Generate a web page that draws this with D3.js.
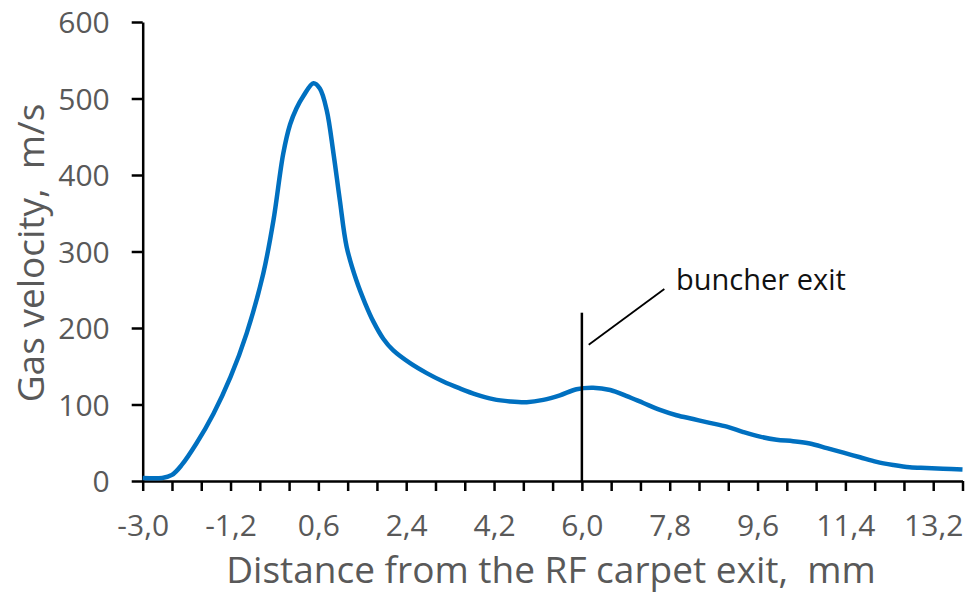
<!DOCTYPE html>
<html>
<head>
<meta charset="utf-8">
<script src="https://cdn.jsdelivr.net/npm/d3@7"></script>
<style>
  body { margin: 0; background: #fff; }
  svg { display: block; font-family: "Open Sans", sans-serif; }
  text { white-space: pre; }
</style>
</head>
<body>
<div id="chart"></div>
<script>
const width = 968
const height = 595

// distance from RF carpet exit, mm
const distance = [-3.0, -2.6, -2.4, -2.2, -1.9, -1.55, -1.2, -0.87, -0.53, -0.32, -0.12, 0.02, 0.15, 0.29, 0.5, 0.63, 0.77, 0.91, 1.04, 1.18, 1.38, 1.56, 1.73, 1.93, 2.13, 2.48, 2.82, 3.16, 3.5, 3.84, 4.18, 4.53, 4.87, 5.21, 5.55, 5.89, 6.23, 6.58, 6.92, 7.26, 7.6, 7.94, 8.28, 8.62, 8.97, 9.31, 9.65, 9.99, 10.33, 10.67, 11.02, 11.36, 11.7, 12.04, 12.38, 12.72, 13.06, 13.4, 13.8]
// gas velocity, m/s
const velocity = [4, 4, 8, 21, 49, 88, 136, 193, 271, 341, 428, 466, 487, 503, 520, 513, 485, 428, 367, 306, 262, 232, 208, 186, 171, 154, 141, 130, 121, 113, 107, 104, 103, 106, 112, 120, 122, 119, 111, 102, 93, 86, 81, 76, 71, 64, 58, 54, 52, 49, 43, 37, 31, 25, 21, 18, 17, 16, 15]

const xTicks = d3.range(0, 29).map(i => -3.0 + i * 0.6)
const yTicks = [0, 100, 200, 300, 400, 500, 600]

const buncherX = 6.0
const buncherTop = 220
const leader = [[6.14, 178], [7.69, 251]]
const buncherLabel = 'buncher exit'
const labelPos = [7.93, 250]

const xTitle = 'Distance from the RF carpet exit,  mm'
const yTitle = 'Gas velocity,  m/s'

const x = d3.scaleLinear().domain([-3.0, 13.8]).range([142.7, 962.5])
const y = d3.scaleLinear().domain([0, 600]).range([481, 22])

const svg = d3.select('#chart').append('svg')
  .attr('width', width)
  .attr('height', height)

const grey = '#595959'
const fmt = v => d3.format('.1f')(v).replace('.', ',').replace('−', '-')

// x axis
const xAxis = svg.append('g')
  .attr('transform', `translate(0,${y(0)})`)
  .call(d3.axisBottom(x).tickValues(xTicks).tickSize(10).tickSizeOuter(0)
    .tickFormat((d, i) => (i % 3 === 0 && i < 28) ? fmt(d) : ''))
xAxis.select('.domain').attr('stroke', '#000').attr('stroke-width', 2.5)
xAxis.selectAll('.tick line').attr('stroke', '#000').attr('stroke-width', 2.5)
xAxis.selectAll('.tick text')
  .attr('fill', grey).attr('font-size', 30).attr('dy', null).attr('y', 55)
  .style('font-family', '"Open Sans", sans-serif')

// y axis
const yAxis = svg.append('g')
  .attr('transform', `translate(${x(-3.0)},0)`)
  .call(d3.axisLeft(y).tickValues(yTicks).tickSize(11).tickSizeOuter(0).tickFormat(d3.format('d')))
yAxis.select('.domain').attr('stroke', '#000').attr('stroke-width', 2.5)
yAxis.selectAll('.tick line').attr('stroke', '#000').attr('stroke-width', 2.5)
yAxis.selectAll('.tick text')
  .attr('fill', grey).attr('font-size', 30).attr('x', -33).attr('dy', '0.35em')
  .style('font-family', '"Open Sans", sans-serif')

// curve
const line = d3.line()
  .x((d, i) => x(distance[i]))
  .y(d => y(d))
  .curve(d3.curveCatmullRom.alpha(0.5))

svg.append('path')
  .datum(velocity)
  .attr('fill', 'none')
  .attr('stroke', '#0070C0')
  .attr('stroke-width', 4.5)
  .attr('stroke-linejoin', 'round')
  .attr('d', line)

// buncher exit marker
svg.append('line')
  .attr('x1', x(buncherX)).attr('x2', x(buncherX))
  .attr('y1', y(0)).attr('y2', y(buncherTop))
  .attr('stroke', '#000').attr('stroke-width', 2.5)

svg.append('line')
  .attr('x1', x(leader[0][0])).attr('y1', y(leader[0][1]))
  .attr('x2', x(leader[1][0])).attr('y2', y(leader[1][1]))
  .attr('stroke', '#000').attr('stroke-width', 1.8)

svg.append('text')
  .attr('x', x(labelPos[0])).attr('y', y(labelPos[1]))
  .attr('font-size', 29).attr('fill', '#111')
  .text(buncherLabel)

// axis titles
svg.append('text')
  .attr('x', 551).attr('y', 583)
  .attr('text-anchor', 'middle')
  .attr('font-size', 37).attr('fill', grey)
  .text(xTitle)

svg.append('text')
  .attr('transform', 'translate(44,253) rotate(-90)')
  .attr('text-anchor', 'middle')
  .attr('font-size', 37).attr('fill', grey)
  .text(yTitle)
</script>
</body>
</html>
